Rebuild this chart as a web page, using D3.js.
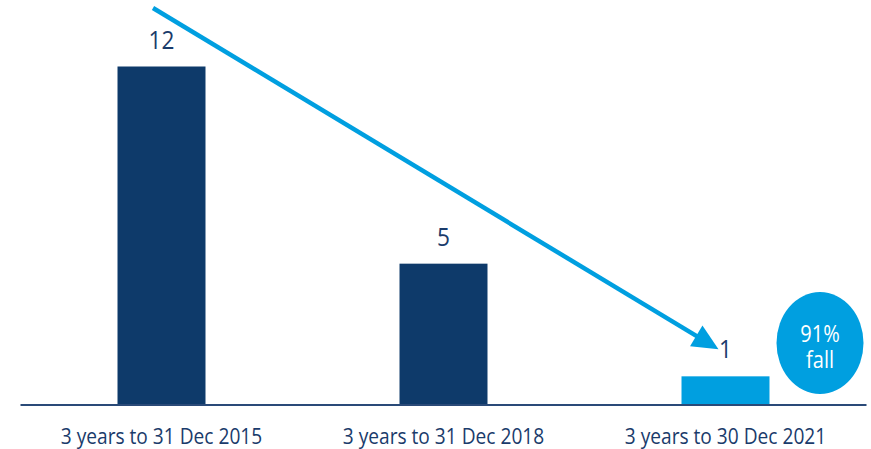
<!DOCTYPE html>
<html>
<head>
<meta charset="utf-8">
<script src="https://cdn.jsdelivr.net/npm/d3@7"></script>
<style>
  html, body { margin: 0; padding: 0; background: #fff; }
  svg { display: block; font-family: "Open Sans", "Noto Sans", sans-serif; }
</style>
</head>
<body>
<svg id="chart" width="871" height="449"></svg>
<script>
const categories = ["3 years to 31 Dec 2015", "3 years to 31 Dec 2018", "3 years to 30 Dec 2021"];
const values = [12, 5, 1];
const barColors = ["#0e3a6a", "#0e3a6a", "#009fe0"];
const badgeLines = ["91%", "fall"];

const navy = "#1a3b6b";
const blue = "#009fe0";
const squeeze = 0.87; // the source art is a little narrow horizontally

const svg = d3.select("#chart");

const x = d3
  .scaleBand()
  .domain(categories)
  .range([20.5, 866.5])
  .paddingInner(0.688)
  .paddingOuter(0.344);

const y = d3.scaleLinear().domain([0, 12]).range([404.5, 66.5]);

const cx = (c) => x(c) + x.bandwidth() / 2;

// helper: text with the horizontal squeeze applied about its anchor
const squeezedText = (sel, tx, ty) =>
  sel.attr("transform", (d, i) => `translate(${tx(d, i)},${ty(d, i)}) scale(${squeeze},1)`);

// bars
svg
  .append("g")
  .selectAll("rect")
  .data(categories)
  .join("rect")
  .attr("x", (d) => x(d))
  .attr("width", x.bandwidth())
  .attr("y", (d, i) => y(values[i]))
  .attr("height", (d, i) => y(0) - y(values[i]))
  .attr("fill", (d, i) => barColors[i]);

// baseline
svg
  .append("line")
  .attr("x1", x.range()[0])
  .attr("x2", x.range()[1])
  .attr("y1", y(0) + 0.5)
  .attr("y2", y(0) + 0.5)
  .attr("stroke", "#2a4a78")
  .attr("stroke-width", 2);

// value labels
svg
  .append("g")
  .selectAll("text")
  .data(categories)
  .join("text")
  .call(squeezedText, (d) => cx(d), (d, i) => y(values[i]) - 18)
  .attr("text-anchor", "middle")
  .attr("font-size", 26)
  .attr("fill", navy)
  .text((d, i) => values[i]);

// category labels
svg
  .append("g")
  .selectAll("text")
  .data(categories)
  .join("text")
  .call(squeezedText, (d) => cx(d), () => 443.5)
  .attr("text-anchor", "middle")
  .attr("font-size", 22)
  .attr("fill", navy)
  .text((d) => d);

// trend arrow from above the first bar down to the last label
const start = [cx(categories[0]) - 8.5, 8];
const tip = [cx(categories[2]) - 7, y(values[2]) - 27];
const ang = Math.atan2(tip[1] - start[1], tip[0] - start[0]);
const headLen = 26;
const headHalf = 12;
const base = [tip[0] - headLen * Math.cos(ang), tip[1] - headLen * Math.sin(ang)];

svg
  .append("line")
  .attr("x1", start[0])
  .attr("y1", start[1])
  .attr("x2", base[0] + 2 * Math.cos(ang))
  .attr("y2", base[1] + 2 * Math.sin(ang))
  .attr("stroke", blue)
  .attr("stroke-width", 4.5);

svg
  .append("path")
  .attr(
    "d",
    d3.line()([
      tip,
      [base[0] - headHalf * Math.sin(ang), base[1] + headHalf * Math.cos(ang)],
      [base[0] + headHalf * Math.sin(ang), base[1] - headHalf * Math.cos(ang)],
    ]) + "Z",
  )
  .attr("fill", blue);

// "91% fall" badge, one text block with two lines
const badge = svg.append("g").attr("transform", "translate(820,343)");
badge
  .append("ellipse")
  .attr("rx", 43.5)
  .attr("ry", 51)
  .attr("fill", blue);
badge
  .append("text")
  .attr("transform", `translate(0,-1) scale(${squeeze},1)`)
  .attr("text-anchor", "middle")
  .attr("font-size", 23)
  .attr("fill", "#fff")
  .selectAll("tspan")
  .data(badgeLines)
  .join("tspan")
  .attr("x", 0)
  .attr("dy", (d, i) => (i === 0 ? 0 : 26))
  .text((d) => d);
</script>
</body>
</html>
